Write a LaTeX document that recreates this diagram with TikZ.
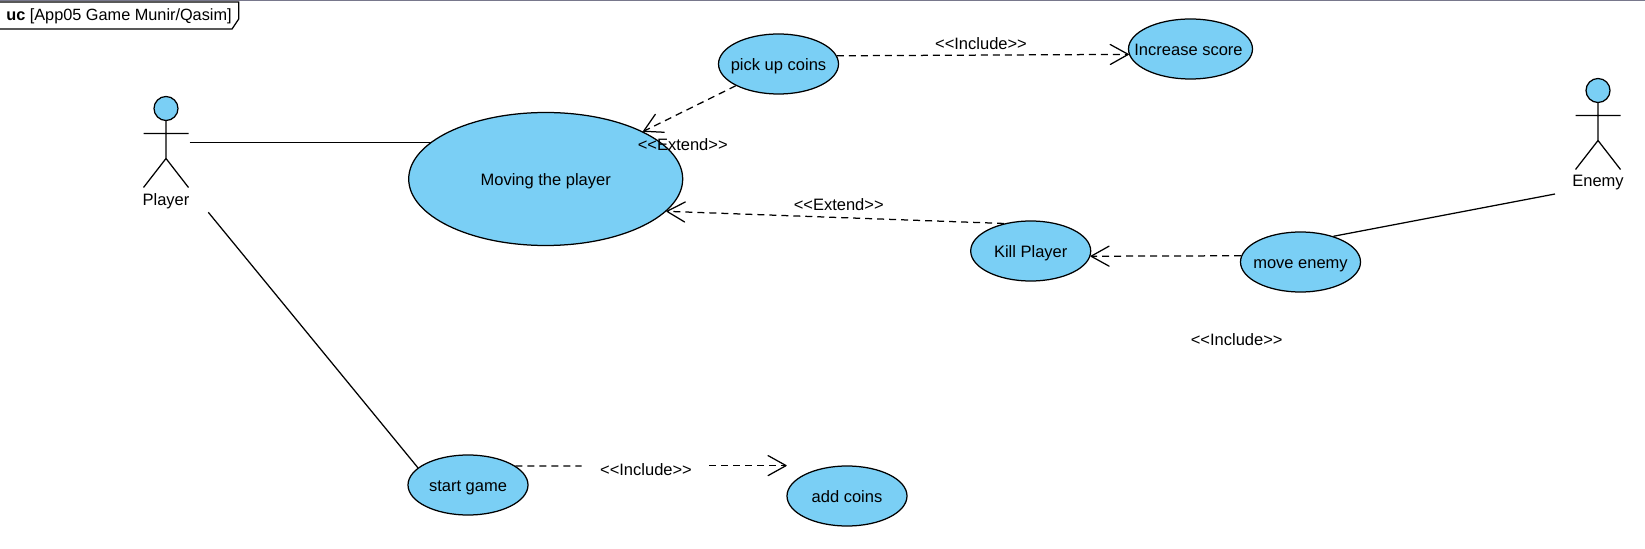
\documentclass[tikz,border=0pt]{standalone}
\usepackage{fontspec}
\setmainfont{Liberation Sans}
\usetikzlibrary{arrows.meta,shapes.geometric}
\definecolor{ucfill}{RGB}{122,207,245}
\tikzset{x=0.6pt,y=-0.6pt,
 uc/.style={ellipse,draw=black,fill=ucfill,line width=0.75pt,minimum width=72pt,minimum height=36pt,inner sep=0pt,font=\fontsize{9.9pt}{11pt}\selectfont},
 lbl/.style={font=\fontsize{9.9pt}{11pt}\selectfont,inner sep=0pt,text=black},
 assoc/.style={line width=0.75pt},
 dep/.style={line width=0.75pt,dash pattern=on 4.2pt off 3pt,-{Straight Barb[length=10.8pt,width=12pt,line width=0.75pt,round]}},
 depplain/.style={line width=0.75pt,dash pattern=on 4.2pt off 3pt},
 limb/.style={line width=0.75pt}}
\newcommand{\actor}[3]{%
 \draw[limb,fill=ucfill] (#1,#2) circle[radius=12];
 \draw[limb] (#1,#2+12) -- (#1,#2+50) (#1-22.5,#2+25) -- (#1+22.5,#2+25) (#1-22.5,#2+79) -- (#1,#2+50) -- (#1+22.5,#2+79);
 \node[lbl] at (#1,#2+92.5) {#3};}
\newcommand{\uctext}[1]{\makebox[0pt]{\raisebox{-3.9pt}[0pt][0pt]{#1}}}
\begin{document}
\begin{tikzpicture}
\useasboundingbox (0,0) rectangle (1645,549);
\fill[white] (0,0) rectangle (1645,549);
\definecolor{framegray}{RGB}{120,120,140}
\draw[line width=0.8pt,color=framegray] (0,0.7) -- (1645,0.7);
\draw[line width=0.75pt,fill=white] (-2,2) -- (238.7,2) -- (238.7,19) -- (232,29) -- (-2,29);
\node[lbl,anchor=west,font=\fontsize{9.77pt}{11pt}\selectfont] (frame) at (6,16.5) {\textbf{uc} [App05 Game Munir/Qasim]};
\coordinate (pl) at (189.5,142.5);
\coordinate (pl2) at (208.3,212.3);
\coordinate (en) at (1555,194);
\node[uc,minimum width=164.4pt,minimum height=79.8pt] (move) at (545.7,179) {\uctext{Moving the player}};
\node[uc] (pick) at (778.5,64) {\uctext{pick up coins}};
\node[uc,minimum width=74.4pt] (inc) at (1190.5,49) {\makebox[0pt]{\hspace{-2.4pt}\raisebox{-3.9pt}[0pt][0pt]{Increase score}}};
\node[uc] (kill) at (1030.7,251) {\uctext{Kill Player}};
\node[uc] (men) at (1300.5,262) {\uctext{move enemy}};
\node[uc] (start) at (468,485) {\uctext{start game}};
\node[uc] (add) at (847,496) {\uctext{add coins}};
\actor{166}{108.5}{Player}
\actor{1598}{90.5}{Enemy}
\draw[assoc] (pl) -- (pl -| move.162.6);
\draw[assoc] (pl2) -- (start.161.6);
\draw[assoc] (en) -- (men.38.7);
\draw[dep] (pick.207.9) -- (move.26.5);
\draw[dep] (pick.8.7) -- (inc.185.6);
\draw[dep] (kill.134.7) -- (move.-15.5);
\draw[dep] (men.174.6) -- (kill.-5);
\node[lbl] (l1) at (981,43.7) {<{}<Include>{}>};
\node[lbl] (l2) at (682.7,144.7) {<{}<Extend>{}>};
\node[lbl] (l3) at (838.7,204.7) {<{}<Extend>{}>};
\node[lbl] (l4) at (1236.7,339.7) {<{}<Include>{}>};
\node[lbl] (l5) at (646,469.7) {<{}<Include>{}>};
\coordinate (a1) at (581.7,466);
\coordinate (a2) at (709,465.6);
\coordinate (a3) at (786.7,465.6);
\draw[depplain] (start.22) -- (a1);
\draw[dep] (a2) -- (a3);
\end{tikzpicture}
\end{document}
